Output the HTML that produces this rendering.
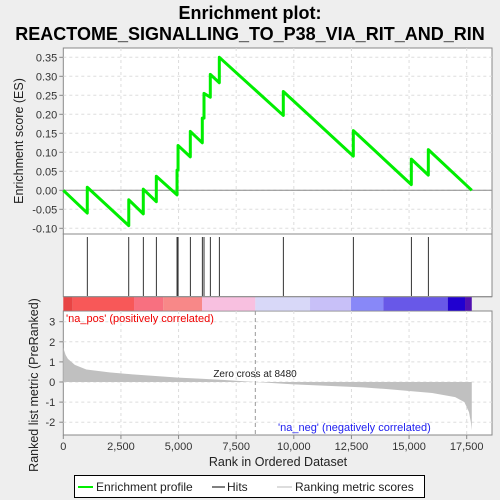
<!DOCTYPE html>
<html><head><meta charset="utf-8"><style>
html,body{margin:0;padding:0;background:#eeeeee;}
svg{display:block;font-family:"Liberation Sans",sans-serif;}
</style></head><body>
<svg id="c" width="500" height="500" xmlns="http://www.w3.org/2000/svg">
<text x="250" y="19" text-anchor="middle" font-size="18" font-weight="bold" fill="#000">Enrichment plot:</text>
<text x="250" y="40" text-anchor="middle" font-size="18" font-weight="bold" fill="#000">REACTOME_SIGNALLING_TO_P38_VIA_RIT_AND_RIN</text>
<g id="g"></g>
</svg>
<script>
const hitRanks=[1040,2840,3470,4035,4934,4978,5510,6030,6104,6377,6768,9544,12581,15098,15835];
const esBefore=[-0.060,-0.093,-0.062,-0.030,-0.012,0.053,0.088,0.125,0.190,0.245,0.283,0.197,0.090,0.015,0.040];
const esAfter=[0.008,-0.025,0.003,0.037,0.053,0.118,0.155,0.190,0.255,0.305,0.350,0.260,0.157,0.082,0.107];
const esEnd=0.0;
const totalRanks=17720;
const esTicks=[-0.10,-0.05,0.00,0.05,0.10,0.15,0.20,0.25,0.30,0.35];
const xTicks=[0,2500,5000,7500,10000,12500,15000,17500];
const metricRanks=[0,100,200,500,1000,2000,3000,4000,5000,6000,7000,8330,10000,12000,13000,14000,15000,16000,17000,17400,17600,17680,17720];
const metricVals=[1.7,1.35,1.15,0.85,0.62,0.48,0.38,0.30,0.22,0.16,0.10,0.0,-0.12,-0.22,-0.27,-0.35,-0.45,-0.55,-0.75,-1.0,-1.5,-2.0,-2.4];
const mTicks=[3,2,1,0,-1,-2];
const cStops=[0,407,3068,4338,6017,8330,10703,12482,13883,16677,17427,17720];
const NS="http://www.w3.org/2000/svg";
const g=document.getElementById('g');
const L=63.3,R=492,xs=v=>L+v*(403.4/17500);
const T1=48,B1=234,ys=v=>190.3-v*(19/0.05);
const T3=311,B3=435,ym=v=>382-v*20.1;
function el(t,a,p){const e=document.createElementNS(NS,t);for(const k in a)e.setAttribute(k,a[k]);(p||g).appendChild(e);return e;}
function txt(x,y,s,a){const e=el('text',Object.assign({x:x,y:y},a||{}));e.textContent=s;return e;}
const p1=el('rect',{x:L,y:T1,width:R-L,height:B1-T1,fill:'#fff',stroke:'#888'});


const p2=el('rect',{x:L,y:B1,width:R-L,height:296.7-B1,fill:'#fff',stroke:'#888'});


const p3=el('rect',{x:L,y:T3,width:R-L,height:B3-T3,fill:'#fff',stroke:'#888'});


xTicks.forEach(t=>{if(t>0){el('line',{x1:xs(t),x2:xs(t),y1:T1,y2:B1,stroke:'#ddd','stroke-dasharray':'3,3'});el('line',{x1:xs(t),x2:xs(t),y1:T3,y2:B3,stroke:'#ddd','stroke-dasharray':'3,3'});}
 el('line',{x1:xs(t),x2:xs(t),y1:B3,y2:B3+4,stroke:'#888'});
 const lb=txt(xs(t),B3+15,t.toLocaleString('en-US'),{'text-anchor':'middle','font-size':11,fill:'#333'});
 
 });
esTicks.forEach(t=>{el('line',{x1:L,x2:R,y1:ys(t),y2:ys(t),stroke:'#ddd','stroke-dasharray':'3,3'});
 el('line',{x1:L-4,x2:L,y1:ys(t),y2:ys(t),stroke:'#888'});
 const lb=txt(L-6,ys(t)+4,t.toFixed(2),{'text-anchor':'end','font-size':11,fill:'#333'});
 
 });
mTicks.forEach(t=>{el('line',{x1:L,x2:R,y1:ym(t),y2:ym(t),stroke:'#ddd','stroke-dasharray':'3,3'});
 el('line',{x1:L-4,x2:L,y1:ym(t),y2:ym(t),stroke:'#888'});
 const lb=txt(L-8,ym(t)+4,String(t),{'text-anchor':'end','font-size':11,fill:'#333'});
 
 });
el('line',{x1:L,x2:R,y1:ys(0),y2:ys(0),stroke:'#888'});
let pts=[[0,0]];
hitRanks.forEach((r,i)=>{pts.push([r,esBefore[i]]);pts.push([r,esAfter[i]]);});
pts.push([totalRanks,esEnd]);
const es=el('polyline',{points:pts.map(p=>xs(p[0])+','+ys(p[1])).join(' '),fill:'none',stroke:'#00ee00','stroke-width':3,'stroke-linejoin':'round'});


hitRanks.forEach(r=>{const h=el('line',{x1:xs(r),x2:xs(r),y1:B1+3,y2:296,stroke:'#000','stroke-width':0.8});
 
 });
const cols=['#e84444','#f85858','#f87080','#f88888','#f8c0e0','#d8d8f8','#c8c0f8','#8888f8','#6858e8','#2000d0','#5010b0'];
for(let i=0;i<cols.length;i++){const a=cStops[i],b=cStops[i+1];
 const s=el('rect',{x:xs(a),y:296.7,width:xs(b)-xs(a),height:14,fill:cols[i]});
 
 }
el('line',{x1:L,x2:R,y1:296.7,y2:296.7,stroke:'#888'});
let mp='M'+xs(0)+','+ym(0);
metricRanks.forEach((r,i)=>{mp+=' L'+xs(r)+','+ym(metricVals[i]);});
mp+=' L'+xs(totalRanks)+','+ym(0)+' Z';
const ma=el('path',{d:mp,fill:'#c0c0c0'});


el('line',{x1:xs(8330),x2:xs(8330),y1:T3,y2:B3,stroke:'#999','stroke-dasharray':'4,3'});
let z=txt(255,377,'Zero cross at 8480',{'text-anchor':'middle','font-size':10,fill:'#222'});

z=txt(66,322,"'na_pos' (positively correlated)",{'font-size':11,fill:'#f00000'});

z=txt(278,431,"'na_neg' (negatively correlated)",{'font-size':11,fill:'#2020f0'});

z=txt(23,141,'Enrichment score (ES)',{'text-anchor':'middle','font-size':12.5,fill:'#222',transform:'rotate(-90 23 141)'});

z=txt(38,385,'Ranked list metric (PreRanked)',{'text-anchor':'middle','font-size':12.5,fill:'#222',transform:'rotate(-90 38 385)'});

z=txt(278,466,'Rank in Ordered Dataset',{'text-anchor':'middle','font-size':12.5,fill:'#222'});

const lg=el('rect',{x:74.5,y:475.5,width:350,height:22,fill:'#fff',stroke:'#000'});

el('line',{x1:78,x2:93,y1:487,y2:487,stroke:'#00ee00','stroke-width':2});
z=txt(96,491,'Enrichment profile',{'font-size':12,fill:'#222'});
el('line',{x1:212,x2:225,y1:487,y2:487,stroke:'#000','stroke-width':1});
z=txt(227,491,'Hits',{'font-size':12,fill:'#222'});
el('line',{x1:277,x2:292,y1:487,y2:487,stroke:'#bbb','stroke-width':1});
z=txt(295,491,'Ranking metric scores',{'font-size':12,fill:'#222'});
</script>
</body></html>
